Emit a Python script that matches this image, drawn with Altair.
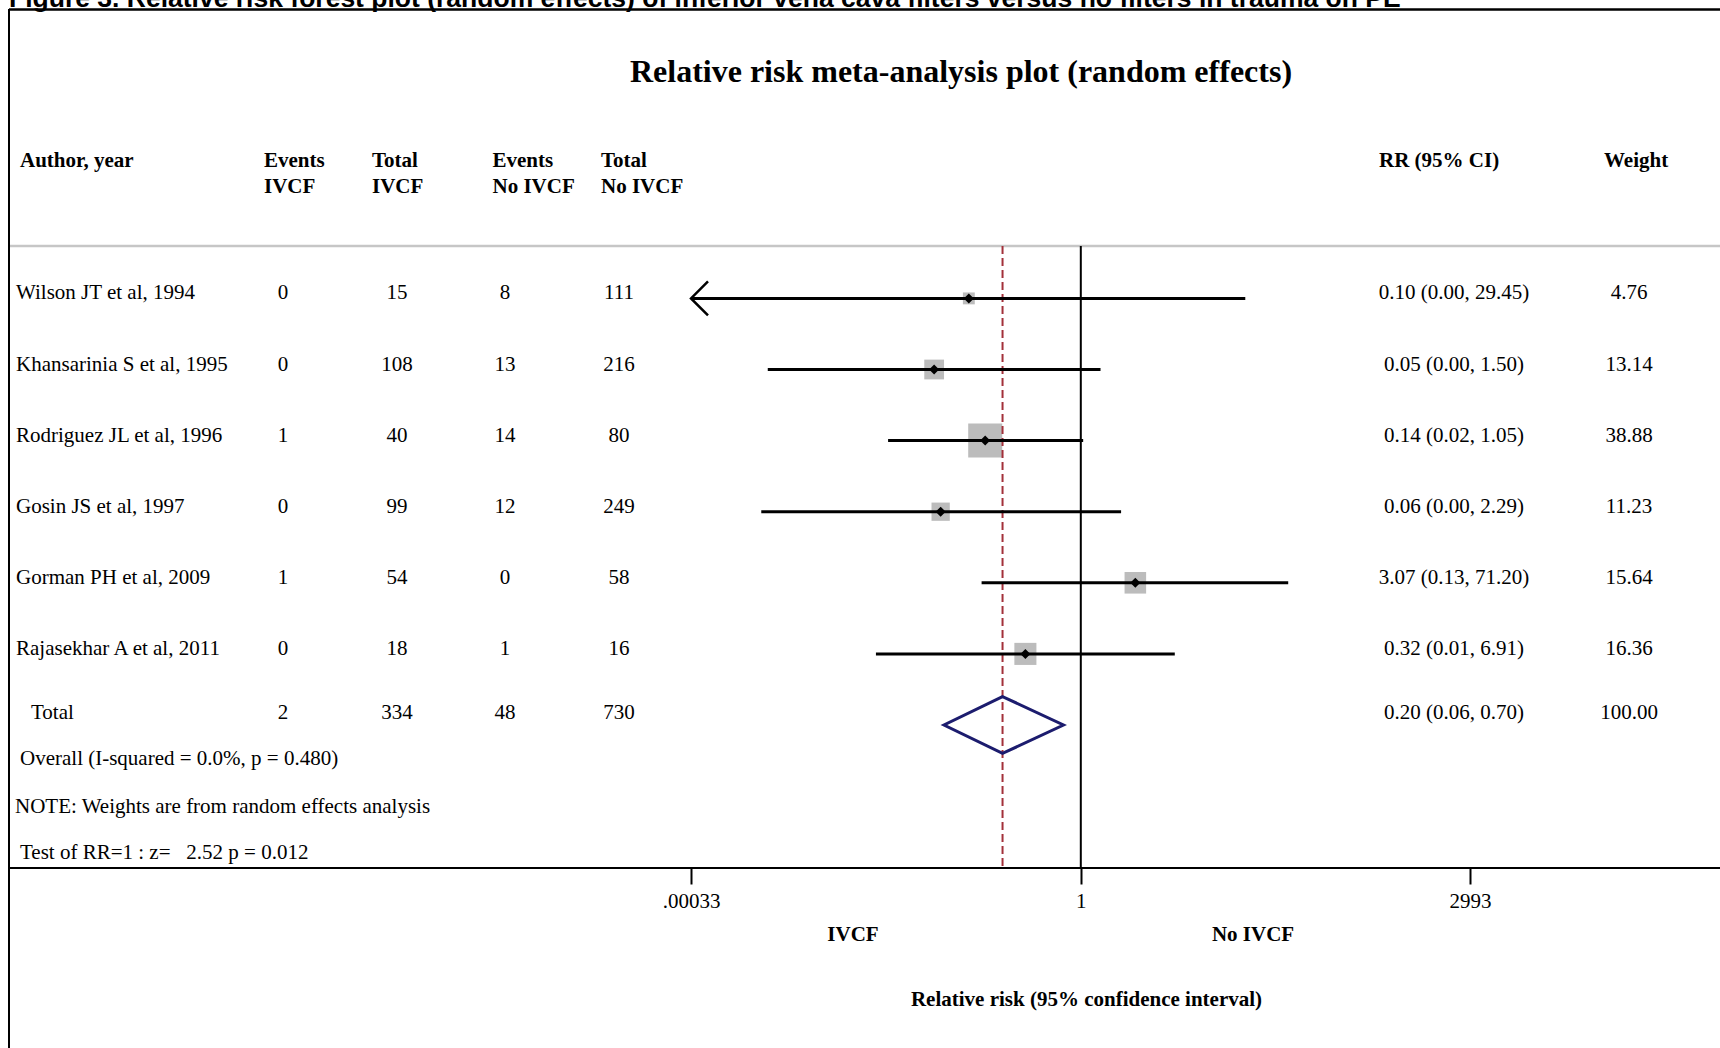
import altair as alt
import pandas as pd

# ---------------- data ----------------
studies = [
    "Wilson JT et al, 1994",
    "Khansarinia S et al, 1995",
    "Rodriguez JL et al, 1996",
    "Gosin JS et al, 1997",
    "Gorman PH et al, 2009",
    "Rajasekhar A et al, 2011",
]
events_ivcf = [0, 0, 1, 0, 1, 0]
total_ivcf = [15, 108, 40, 99, 54, 18]
events_no_ivcf = [8, 13, 14, 12, 0, 1]
total_no_ivcf = [111, 216, 80, 249, 58, 16]
rr = [0.10, 0.049, 0.14, 0.056, 3.07, 0.32]
rr_low = [0.0003, 0.0016, 0.019, 0.0014, 0.13, 0.0148]
rr_high = [29.45, 1.50, 1.05, 2.29, 71.20, 6.91]
weights = [4.76, 13.14, 38.88, 11.23, 15.64, 16.36]

# pooled (random effects) result
pooled_counts = [2, 334, 48, 730]
pooled_rr = 0.20
pooled_low = 0.06
pooled_high = 0.70
pooled_weight = 100.00

axis_ticks = [0.00033, 1, 2993]

header_top = ["Author, year", "Events", "Total", "Events", "Total", "RR (95% CI)", "Weight"]
header_bottom = ["", "IVCF", "IVCF", "No IVCF", "No IVCF", "", ""]

caption = ("Figure 3. Relative risk forest plot (random effects) of inferior vena cava "
           "filters versus no filters in trauma on PE")
title = "Relative risk meta-analysis plot (random effects)"
notes = [
    "Overall (I-squared = 0.0%, p = 0.480)",
    "NOTE: Weights are from random effects analysis",
    "Test of RR=1 : z=\u00a0\u00a0\u00a02.52 p = 0.012",
]
axis_title = "Relative risk (95% confidence interval)"
favours = ["IVCF", "No IVCF"]

# ---------------- layout ----------------
SERIF = "Liberation Serif"
SANS = "Liberation Sans"
FS = 21
W, H_VIEW, H_TOTAL = 1720, 868, 1048
AXIS_MIN, AXIS_MAX = axis_ticks[0], axis_ticks[-1]
N = len(studies)

xs = alt.Scale(type="log", domain=[AXIS_MIN, AXIS_MAX], range=[691, 1470], nice=False)
ys = alt.Scale(domain=[0, N], range=[298.4, 725], nice=False, zero=False)
xax = alt.Axis(
    values=axis_ticks, format="~g",
    labelExpr="datum.value < 1 ? slice(datum.label, 1) : datum.label",
    domain=False, grid=False, ticks=True, tickSize=16, tickWidth=2, tickColor="black",
    labelFont=SERIF, labelFontSize=FS, labelColor="black", labelPadding=6,
    labelFlush=False, labelOverlap=False,
    title=axis_title, titleFont=SERIF, titleFontSize=FS, titleFontWeight="bold",
    titleColor="black", titleX=1086, titleY=131, titleBaseline="middle",
)

# ---------------- tables ----------------
sdf = pd.DataFrame({
    "row": list(range(N)),
    "study": studies,
    "ev_i": events_ivcf, "tot_i": total_ivcf,
    "ev_n": events_no_ivcf, "tot_n": total_no_ivcf,
    "rr": rr, "lo": rr_low, "hi": rr_high, "weight": weights,
})
sdf["lo_plot"] = sdf["lo"].clip(lower=AXIS_MIN)
sdf["rr_txt"] = [f"{e:.2f} ({l:.2f}, {h:.2f})" for e, l, h in zip(rr, rr_low, rr_high)]
sdf["w_txt"] = [f"{w:.2f}" for w in weights]

arrows = sdf[sdf["lo"] < AXIS_MIN].assign(tip=AXIS_MIN)

tdf = pd.DataFrame({
    "row": [N], "study": ["Total"],
    "ev_i": [pooled_counts[0]], "tot_i": [pooled_counts[1]],
    "ev_n": [pooled_counts[2]], "tot_n": [pooled_counts[3]],
    "rr_txt": [f"{pooled_rr:.2f} ({pooled_low:.2f}, {pooled_high:.2f})"],
    "w_txt": [f"{pooled_weight:.2f}"],
})

DH = 0.4  # half height of the pooled diamond, in rows
diamond = pd.DataFrame({
    "x": [pooled_low, pooled_rr, pooled_high, pooled_rr, pooled_low, pooled_rr],
    "y": [N, N - DH, N, N + DH, N, N - DH],
    "k": list(range(6)),
})

one = pd.DataFrame({"d": [0]})


def X(field):
    return alt.X(f"{field}:Q", scale=xs, axis=xax)


def Y(field):
    return alt.Y(f"{field}:Q", scale=ys, axis=None)


def static_text(txt, x, y, size=FS, bold=False, align="left", font=SERIF, baseline="middle"):
    return alt.Chart(pd.DataFrame({"t": [txt]})).mark_text(
        align=align, baseline=baseline, font=font, fontSize=size,
        fontWeight="bold" if bold else "normal", color="black",
    ).encode(x=alt.value(x), y=alt.value(y), text="t:N")


def hrule(y, x0, x1, width, color):
    return alt.Chart(one).mark_rule(strokeWidth=width, color=color).encode(
        x=alt.value(x0), x2=alt.value(x1), y=alt.value(y))


layers = []

# frame, header separator and baseline
layers.append(alt.Chart(one).mark_rule(strokeWidth=2, color="black").encode(
    x=alt.value(9), y=alt.value(9), y2=alt.value(H_TOTAL)))
layers.append(hrule(9.5, 9, W, 2.5, "black"))
layers.append(hrule(246, 10, W, 2.5, "#c6c6c6"))
layers.append(hrule(868, 10, W, 2, "black"))

# caption and title
layers.append(static_text(caption, 9, 6.5, size=26.5, bold=True, font=SANS, baseline="alphabetic"))
layers.append(static_text(title, 961, 82, size=32, bold=True, align="center", baseline="alphabetic"))

# column headers
header_x = [20, 264, 372, 492.5, 601, 1379, 1604]
for txt, hx in zip(header_top, header_x):
    layers.append(static_text(txt, hx, 161, bold=True))
for txt, hx in zip(header_bottom, header_x):
    if txt:
        layers.append(static_text(txt, hx, 186.5, bold=True))

# study weight boxes
layers.append(alt.Chart(sdf).mark_square(color="#bcbcbc", opacity=1).encode(
    x=X("rr"), y=Y("row"),
    size=alt.Size("weight:Q", scale=alt.Scale(domain=[0, 40], range=[0, 1190]), legend=None)))

# overall effect (dashed) and line of no effect
layers.append(alt.Chart(pd.DataFrame({"v": [pooled_rr]})).mark_rule(
    color="#a3303a", strokeWidth=2, strokeDash=[8, 4]).encode(
    x=X("v"), y=alt.value(246), y2=alt.value(868)))
layers.append(alt.Chart(pd.DataFrame({"v": [1]})).mark_rule(
    color="black", strokeWidth=2).encode(x=X("v"), y=alt.value(246), y2=alt.value(868)))

# confidence intervals
layers.append(alt.Chart(sdf).mark_rule(color="black", strokeWidth=3).encode(
    x=X("lo_plot"), x2="hi:Q", y=Y("row")))

# arrow for intervals running off the scale
layers.append(alt.Chart(arrows).mark_point(
    shape="M1,-1L0,0L1,1", filled=False, size=1156, strokeWidth=2.5,
    color="black", opacity=1).encode(x=X("tip"), y=Y("row")))

# point estimates
layers.append(alt.Chart(sdf).mark_point(
    shape="diamond", filled=True, size=100, color="black", opacity=1).encode(
    x=X("rr"), y=Y("row")))

# pooled diamond
layers.append(alt.Chart(diamond).mark_line(
    color="#1c1c6e", strokeWidth=3, strokeJoin="miter").encode(
    x=X("x"), y=Y("y"), order="k:Q"))

# table columns
cols = [("study", 16, "left"), ("ev_i", 283, "center"), ("tot_i", 397, "center"),
        ("ev_n", 505, "center"), ("tot_n", 619, "center"),
        ("rr_txt", 1454, "center"), ("w_txt", 1629, "center")]
for field, cx, al in cols:
    layers.append(alt.Chart(sdf).mark_text(
        align=al, baseline="middle", dy=-5, font=SERIF, fontSize=FS, color="black").encode(
        x=alt.value(cx), y=Y("row"), text=f"{field}:N"))
    layers.append(alt.Chart(tdf).mark_text(
        align=al, baseline="middle", dy=-12, font=SERIF, fontSize=FS, color="black").encode(
        x=alt.value(31 if field == "study" else cx), y=Y("row"), text=f"{field}:N"))

# footnotes
for txt, (nx, ny) in zip(notes, [(20, 759), (15, 807), (20, 853)]):
    layers.append(static_text(txt, nx, ny))

# favours labels under the axis
layers.append(static_text(favours[0], 853, 935, bold=True, align="center"))
layers.append(static_text(favours[1], 1253, 935, bold=True, align="center"))

chart = alt.layer(*layers).properties(
    width=W, height=H_VIEW,
    padding={"left": 0, "top": 0, "right": 0, "bottom": H_TOTAL - H_VIEW},
    autosize=alt.AutoSizeParams(type="none"),
    background="white",
).configure_view(stroke=None)

chart.save("out.html", embed_options={"renderer": "svg", "actions": False})
